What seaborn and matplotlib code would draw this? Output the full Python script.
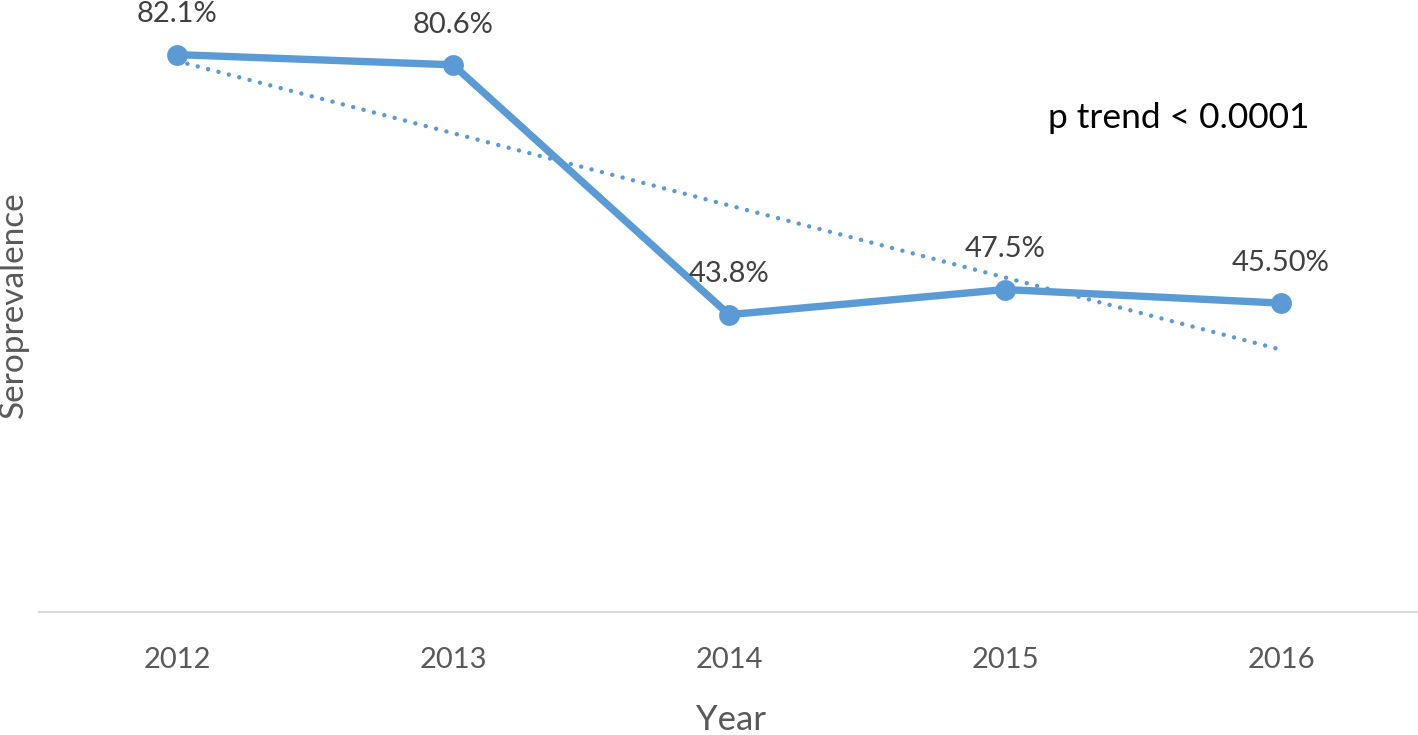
import matplotlib
matplotlib.use("Agg")
import matplotlib.pyplot as plt
import seaborn as sns
import pandas as pd

# dados
years = [2012, 2013, 2014, 2015, 2016]
seroprev = [82.1, 80.6, 43.8, 47.5, 45.5]
labels = ["82.1%", "80.6%", "43.8%", "47.5%", "45.50%"]

df = pd.DataFrame({"Year": years, "Seroprevalence": seroprev})

sns.set_style("white")
plt.rcParams["font.family"] = ["Lato", "DejaVu Sans"]

blue = "#5B9BD5"

fig = plt.figure(figsize=(14.18, 7.35), dpi=100)
ax = fig.add_axes([39 / 1418, 1 - 612 / 735, 1380 / 1418, 611 / 735])

# linha de tendencia (pontilhada)
sns.regplot(data=df, x="Year", y="Seroprevalence", ci=None, scatter=False,
            truncate=True, ax=ax,
            line_kws={"color": blue, "lw": 3.2, "dashes": (0.01, 2.4),
                      "dash_capstyle": "round"})

# serie principal
sns.lineplot(data=df, x="Year", y="Seroprevalence", ax=ax, color=blue,
             lw=5.3, marker="o", markersize=15, markeredgewidth=0,
             clip_on=False)

for x, y, t in zip(years, seroprev, labels):
    ax.annotate(t, (x, y), xytext=(0, 29), textcoords="offset points",
                ha="center", va="center", fontsize=21, color="#404040")

ax.text(2015.63, 72.8, "p trend < 0.0001", ha="center", va="center",
        fontsize=25.5, color="black")

ax.set_xlim(2011.5, 2016.5)
ax.set_ylim(0, 90)
ax.set_xticks(years)
ax.set_xticklabels([str(y) for y in years])
ax.set_yticks([])
ax.tick_params(axis="x", length=0, pad=25, labelsize=21, labelcolor="#595959")
ax.set_xlabel("")
ax.set_ylabel("")
for s in ["top", "left", "right"]:
    ax.spines[s].set_visible(False)
ax.spines["bottom"].set_color("#D9D9D9")
ax.spines["bottom"].set_linewidth(1.5)

fig.text(14 / 1418, 1 - 305 / 735, "Seroprevalence", rotation=90,
         ha="center", va="center", fontsize=24, color="#595959")
fig.text(731 / 1418, 1 - 720 / 735, "Year", ha="center", va="center",
         fontsize=25, color="#595959")

fig.savefig("out.png", dpi=100)
